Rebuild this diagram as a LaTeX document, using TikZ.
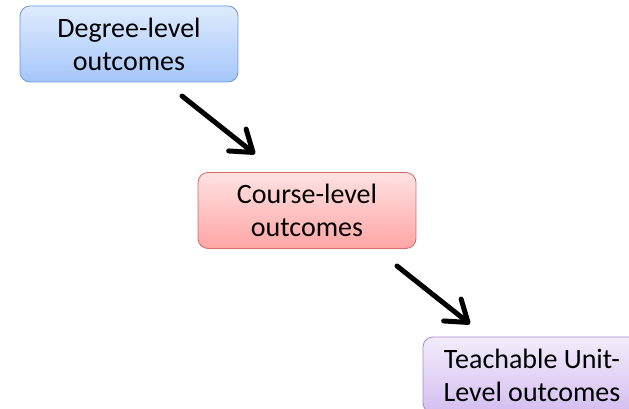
\documentclass[tikz,border=0pt]{standalone}
\usepackage{fontspec}
\setmainfont{Carlito}
\usetikzlibrary{arrows.meta}

\definecolor{blueTop}{HTML}{DFEBFE}
\definecolor{blueBot}{HTML}{A5C6FA}
\definecolor{blueEdge}{HTML}{6E9AE0}
\definecolor{redTop}{HTML}{FFE2E2}
\definecolor{redBot}{HTML}{FFA5A5}
\definecolor{redEdge}{HTML}{D46C6C}
\definecolor{violetTop}{HTML}{F3ECFB}
\definecolor{violetBot}{HTML}{D3BEF0}
\definecolor{violetEdge}{HTML}{A78BCF}

\tikzset{
  outcome/.style={
    rounded corners=10pt, minimum width=218pt, minimum height=76pt,
    align=center, inner sep=0pt, line width=0.8pt,
    font=\fontsize{28pt}{33pt}\selectfont
  },
  bluebox/.style={outcome, draw=blueEdge, top color=blueTop, bottom color=blueBot},
  redbox/.style={outcome, draw=redEdge, top color=redTop, bottom color=redBot},
  violetbox/.style={outcome, draw=violetEdge, top color=violetTop, bottom color=violetBot},
  flow/.style={line width=5pt, line cap=round,
    -{Straight Barb[length=20pt, width=28pt, round]}}
}

\begin{document}
\begin{tikzpicture}[x=1pt, y=-1pt]
  \useasboundingbox (0,0) rectangle (629,409);
  \clip (0,0) rectangle (629,409);

  \node[bluebox]   (degree) at (129,44)  {Degree-level\\outcomes};
  \node[redbox]    (course) at (307,210.5) {Course-level\\outcomes};
  \node[violetbox] (unit)   at (532,375) {Teachable Unit-\\Level outcomes};

  \coordinate (d2cFrom) at (182,96);
  \coordinate (d2cTo)   at (255,154);
  \coordinate (c2uFrom) at (397,266);
  \coordinate (c2uTo)   at (470,324);

  \draw[flow] (d2cFrom) -- (d2cTo);
  \draw[flow] (c2uFrom) -- (c2uTo);
\end{tikzpicture}
\end{document}
